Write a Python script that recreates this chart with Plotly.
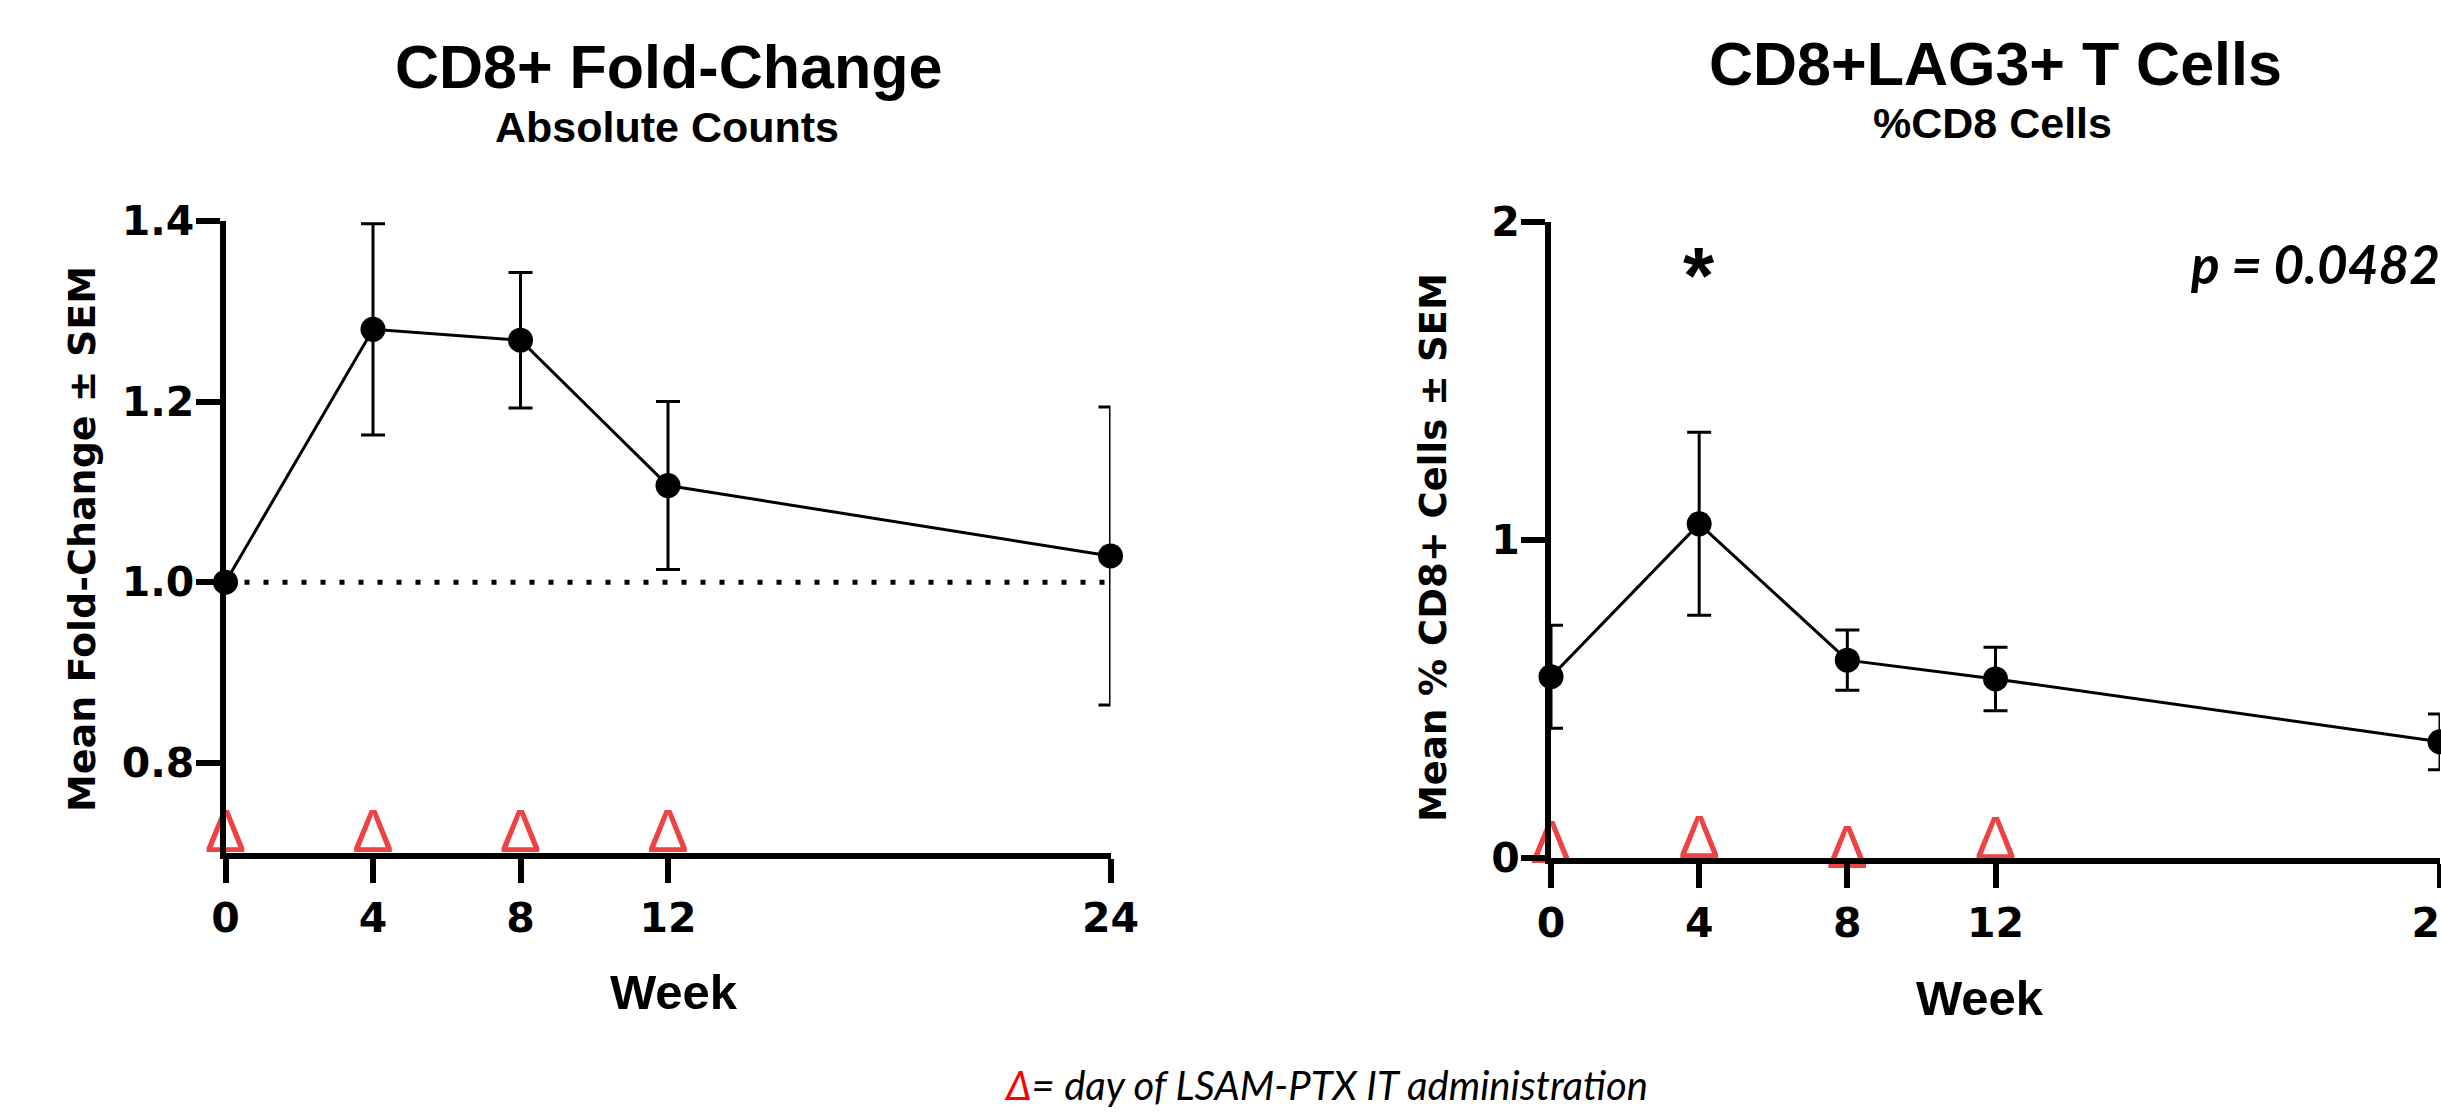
import plotly.graph_objects as go

W, H = 2441, 1117

# ---------------- data ----------------
weeks = [0, 4, 8, 12, 24]
x_ticks = [0, 4, 8, 12, 24]

fold_mean = [1.000, 1.280, 1.268, 1.107, 1.029]
fold_sem = [0.000, 0.117, 0.075, 0.093, 0.165]

lag3_mean = [0.569, 1.050, 0.621, 0.562, 0.364]
lag3_sem = [0.162, 0.288, 0.095, 0.100, 0.088]

dose_weeks = [0, 4, 8, 12]
dose_level_left = [0.718, 0.718, 0.718, 0.718]
dose_level_right = [0.031, 0.046, 0.017, 0.044]

baseline = [1.0, 1.0]
baseline_x = [0, 24]

left_yticks = [0.8, 1.0, 1.2, 1.4]
left_yticktext = ["0.8", "1.0", "1.2", "1.4"]
right_yticks = [0, 1, 2]
right_yticktext = ["0", "1", "2"]

left_title = "CD8+ Fold-Change"
left_subtitle = "Absolute Counts"
left_ytitle = "Mean Fold-Change ± SEM"
right_title = "CD8+LAG3+ T Cells"
right_subtitle = "%CD8 Cells"
right_ytitle = "Mean % CD8+ Cells ± SEM"
xtitle = "Week"
p_text = "p = 0.0482"
p_pos = [17.28, 1.848]        # (week, value) where the p-value label starts
star_text = "*"
footnote = "<span style='color:#ff0000'>Δ</span>= day of LSAM-PTX IT administration"

# ---------------- style ----------------
RED = "#EE4343"
SANS = "Liberation Sans"
WIDE = "DejaVu Sans"


def px(x):
    return x / W


def py(y):
    return 1 - y / H


fig = go.Figure()

# ---- left panel ----
fig.add_trace(go.Scatter(
    x=baseline_x, y=baseline, mode="lines",
    line=dict(color="black", width=5, dash="5px,14px"),
    xaxis="x", yaxis="y", hoverinfo="skip"))
fig.add_trace(go.Scatter(
    x=weeks, y=fold_mean, mode="lines+markers",
    line=dict(color="black", width=3),
    marker=dict(size=25, color="black"),
    error_y=dict(type="data", array=fold_sem, color="black", thickness=3, width=12),
    cliponaxis=False, xaxis="x", yaxis="y"))
fig.add_trace(go.Scatter(
    x=dose_weeks, y=dose_level_left, mode="text", text=["Δ"] * len(dose_weeks),
    textfont=dict(family=SANS, size=62, color=RED),
    cliponaxis=False, xaxis="x", yaxis="y", hoverinfo="skip"))

# ---- right panel ----
fig.add_trace(go.Scatter(
    x=weeks, y=lag3_mean, mode="lines+markers",
    line=dict(color="black", width=3),
    marker=dict(size=25, color="black"),
    error_y=dict(type="data", array=lag3_sem, color="black", thickness=3, width=12),
    cliponaxis=False, xaxis="x2", yaxis="y2"))
fig.add_trace(go.Scatter(
    x=dose_weeks, y=dose_level_right, mode="text", text=["Δ"] * len(dose_weeks),
    textfont=dict(family=SANS, size=62, color=RED),
    cliponaxis=False, xaxis="x2", yaxis="y2", hoverinfo="skip"))
# p-value label (runs off the right edge like the reference)
fig.add_trace(go.Scatter(
    x=[p_pos[0]], y=[p_pos[1]], mode="text", text=[p_text],
    textposition="middle right",
    textfont=dict(family="Lato", size=53, color="black", weight="bold", style="italic"),
    cliponaxis=False, xaxis="x2", yaxis="y2", hoverinfo="skip"))

axis_common = dict(
    showline=True, linecolor="black", linewidth=6,
    ticks="outside", ticklen=24, tickwidth=6, tickcolor="black",
    showgrid=False, zeroline=False, fixedrange=True, automargin=False,
    ticklabeloverflow="allow",
    tickfont=dict(family=WIDE, size=41, color="black", weight="bold"),
)

fig.update_layout(
    width=W, height=H,
    margin=dict(l=0, r=0, t=0, b=0, pad=0, autoexpand=False),
    paper_bgcolor="white", plot_bgcolor="white",
    showlegend=False,
    xaxis=dict(domain=[px(225.5), px(1110.5)], range=[0, 24], anchor="y",
               tickvals=x_ticks, ticktext=[str(v) for v in x_ticks], **axis_common),
    yaxis=dict(domain=[py(853), py(221)], range=[0.7, 1.4], anchor="x",
               tickvals=left_yticks, ticktext=left_yticktext,
               ticklabelstandoff=-7, **axis_common),
    xaxis2=dict(domain=[px(1551), px(2440)], range=[0, 24], anchor="y2",
                tickvals=x_ticks, ticktext=[str(v) for v in x_ticks], **axis_common),
    yaxis2=dict(domain=[py(857.5), py(222)], range=[0, 2], anchor="x2",
                tickvals=right_yticks, ticktext=right_yticktext,
                ticklabelstandoff=-7, **axis_common),
)

bold = dict(family=SANS, color="black", weight="bold")
ann = []


def text_at(x, y, text, size, font=None, xanchor="center", angle=0):
    f = dict(bold) if font is None else dict(font)
    f["size"] = size
    ann.append(dict(x=px(x), y=py(y), xref="paper", yref="paper", text=text,
                    showarrow=False, xanchor=xanchor, yanchor="middle",
                    textangle=angle, font=f))


text_at(668, 67, left_title, 61)
text_at(667, 127, left_subtitle, 43)
text_at(1995, 64, right_title, 61)
text_at(1993, 123, right_subtitle, 43)
text_at(82, 539, left_ytitle, 38,
        font=dict(family=WIDE, color="black", weight="bold"), angle=-90)
text_at(1433, 548, right_ytitle, 37,
        font=dict(family=WIDE, color="black", weight="bold"), angle=-90)
text_at(674, 992, xtitle, 49)
text_at(1980, 998, xtitle, 49)
text_at(1326, 1085, footnote, 40,
        font=dict(family="Lato", color="black", style="italic"))

# significance star above week 4 of right panel
ann.append(dict(x=4, xref="x2", y=py(276), yref="paper", text=star_text,
                showarrow=False, xanchor="center", yanchor="middle",
                font=dict(family=SANS, size=80, color="black", weight="bold")))

fig.update_layout(annotations=ann)

fig.write_html("out.html")
